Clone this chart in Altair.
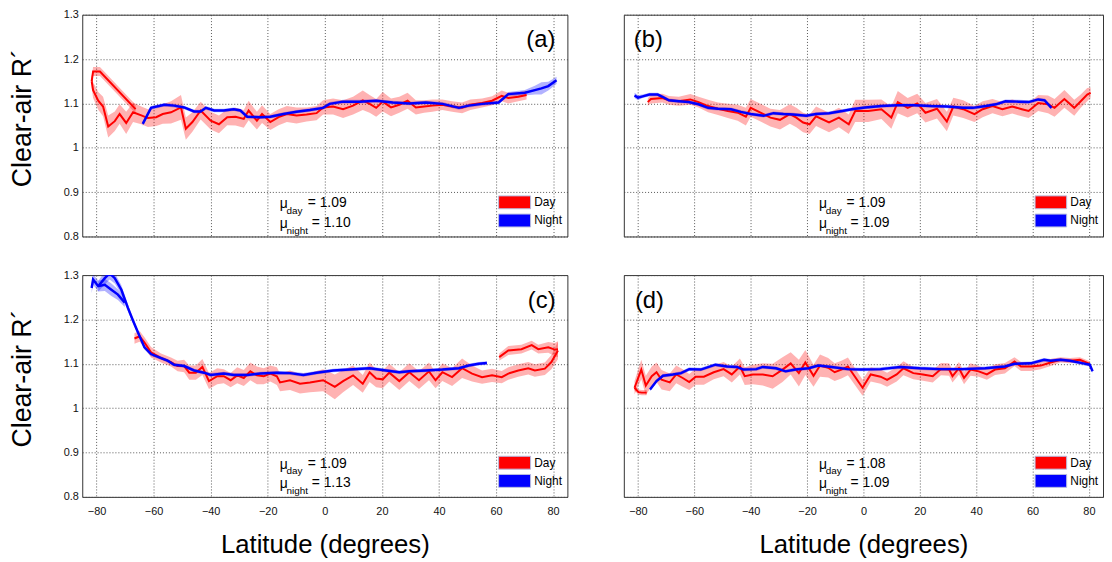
import altair as alt
import pandas as pd

FONT = "Liberation Sans, Arial, Helvetica, sans-serif"
DAY_COLOR = "#ff0000"
NIGHT_COLOR = "#0000ff"

# ---------------- data ----------------
series_names = ["Day", "Night"]
panel_keys = ["a", "b", "c", "d"]
panel_labels = ["(a)", "(b)", "(c)", "(d)"]
mu_day = ["1.09", "1.09", "1.09", "1.08"]
mu_night = ["1.10", "1.09", "1.13", "1.09"]
x_ticks = [-80, -60, -40, -20, 0, 20, 40, 60, 80]
y_ticks = [0.8, 0.9, 1.0, 1.1, 1.2, 1.3]

# panel (a)
a_day1_lat = [-81.7, -81.2, -78.8, -66.3]
a_day1_val = [1.150, 1.172, 1.172, 1.087]
a_day1_err = [0.010, 0.010, 0.010, 0.010]

a_day2_lat = [-81.7, -81.2, -79.4, -77.7, -75.9, -73.6, -71.9, -69.6, -67.2, -64.3,
              -62.0, -59.1, -56.8, -53.9, -50.4, -48.7, -46.4, -43.5, -40.0, -37.1,
              -34.2, -31.3, -28.4, -26.7, -23.8, -22.0, -19.1, -16.2, -13.3, -9.9,
              -6.4, -2.9, -0.6, 2.9, 6.4, 9.9, 13.3, 15.7, 18.0, 20.3,
              23.2, 26.1, 29.0, 31.9, 34.8, 37.7, 41.2, 44.6, 48.1, 51.0,
              55.1, 58.6, 62.0, 64.3, 67.8, 70.7]
a_day2_val = [1.150, 1.130, 1.106, 1.093, 1.048, 1.060, 1.076, 1.056, 1.080, 1.073,
              1.067, 1.069, 1.076, 1.080, 1.091, 1.043, 1.058, 1.084, 1.061, 1.053,
              1.069, 1.070, 1.065, 1.084, 1.061, 1.076, 1.058, 1.069, 1.076, 1.073,
              1.075, 1.078, 1.091, 1.093, 1.087, 1.095, 1.107, 1.099, 1.090, 1.104,
              1.091, 1.097, 1.106, 1.091, 1.093, 1.095, 1.097, 1.093, 1.090, 1.097,
              1.101, 1.106, 1.117, 1.112, 1.115, 1.119]
a_day2_err = [0.015, 0.018, 0.020, 0.022, 0.025, 0.022, 0.022, 0.025, 0.022, 0.020,
              0.020, 0.020, 0.022, 0.025, 0.028, 0.025, 0.022, 0.020, 0.020, 0.020,
              0.018, 0.020, 0.020, 0.022, 0.020, 0.020, 0.018, 0.018, 0.018, 0.018,
              0.016, 0.016, 0.016, 0.018, 0.020, 0.020, 0.022, 0.020, 0.020, 0.022,
              0.020, 0.018, 0.018, 0.016, 0.014, 0.014, 0.012, 0.012, 0.012, 0.012,
              0.010, 0.010, 0.012, 0.012, 0.010, 0.010]

a_night_lat = [-63.8, -60.9, -56.2, -52.8, -49.3, -45.8, -43.5, -41.7, -38.8, -35.4,
               -31.9, -29.6, -27.2, -22.6, -19.1, -14.5, -9.9, -5.2, -0.6, 1.7,
               6.4, 12.2, 18.0, 23.8, 29.6, 35.4, 41.2, 47.0, 50.4, 55.1,
               60.9, 64.3, 70.1, 73.6, 75.9, 78.3, 81.2]
a_night_val = [1.054, 1.090, 1.097, 1.095, 1.091, 1.082, 1.082, 1.090, 1.084, 1.084,
               1.087, 1.084, 1.070, 1.069, 1.070, 1.076, 1.081, 1.085, 1.090, 1.099,
               1.104, 1.104, 1.106, 1.102, 1.100, 1.102, 1.099, 1.090, 1.095, 1.099,
               1.102, 1.121, 1.124, 1.130, 1.134, 1.139, 1.152]
a_night_err = [0.005, 0.004, 0.004, 0.004, 0.004, 0.004, 0.004, 0.004, 0.004, 0.004,
               0.004, 0.004, 0.004, 0.004, 0.004, 0.004, 0.004, 0.004, 0.004, 0.004,
               0.004, 0.004, 0.004, 0.004, 0.004, 0.004, 0.004, 0.004, 0.004, 0.004,
               0.004, 0.005, 0.006, 0.010, 0.014, 0.010, 0.008]

# panel (b)
b_day_lat = [-76.5, -75.4, -71.3, -69.0, -65.5, -61.4, -58.5, -55.1, -51.6, -48.1,
             -44.6, -41.7, -40.0, -36.5, -33.0, -29.6, -26.1, -23.8, -21.4, -19.1,
             -16.8, -12.2, -8.7, -5.2, -2.9, 1.7, 6.4, 9.9, 12.2, 15.7,
             19.1, 22.0, 26.1, 29.6, 31.9, 35.4, 39.4, 42.3, 45.8, 49.3,
             52.8, 56.2, 58.6, 62.0, 65.5, 67.8, 71.3, 74.8, 77.1, 79.4,
             80.6]
b_day_val = [1.103, 1.110, 1.112, 1.107, 1.105, 1.109, 1.103, 1.094, 1.088, 1.083,
             1.079, 1.070, 1.090, 1.079, 1.068, 1.063, 1.076, 1.068, 1.057, 1.053,
             1.071, 1.057, 1.068, 1.053, 1.083, 1.083, 1.087, 1.068, 1.103, 1.090,
             1.100, 1.079, 1.088, 1.059, 1.093, 1.087, 1.076, 1.087, 1.094, 1.087,
             1.093, 1.087, 1.083, 1.101, 1.098, 1.090, 1.110, 1.090, 1.105, 1.120,
             1.124]
b_day_err = [0.008, 0.010, 0.010, 0.010, 0.010, 0.012, 0.012, 0.014, 0.014, 0.016,
             0.018, 0.020, 0.020, 0.020, 0.020, 0.022, 0.022, 0.022, 0.022, 0.022,
             0.022, 0.022, 0.022, 0.022, 0.025, 0.025, 0.022, 0.025, 0.025, 0.022,
             0.022, 0.022, 0.022, 0.022, 0.020, 0.020, 0.018, 0.018, 0.016, 0.016,
             0.016, 0.016, 0.016, 0.018, 0.020, 0.020, 0.020, 0.018, 0.015, 0.015,
             0.012]

b_night_lat = [-81.2, -80.0, -78.3, -75.9, -73.0, -71.3, -69.0, -65.5, -62.0, -58.5,
               -55.1, -51.6, -47.0, -43.5, -40.0, -35.4, -31.9, -28.4, -24.9, -20.3,
               -16.8, -12.2, -7.5, -4.1, 0.6, 6.4, 12.2, 18.0, 23.8, 29.6,
               35.4, 38.8, 43.5, 47.0, 50.4, 55.1, 58.6, 62.0, 64.3, 66.7]
b_night_val = [1.118, 1.113, 1.116, 1.120, 1.120, 1.115, 1.107, 1.105, 1.103, 1.098,
               1.090, 1.088, 1.087, 1.081, 1.076, 1.072, 1.078, 1.076, 1.075, 1.072,
               1.076, 1.078, 1.083, 1.087, 1.091, 1.094, 1.096, 1.096, 1.094, 1.093,
               1.090, 1.090, 1.094, 1.098, 1.105, 1.104, 1.103, 1.109, 1.107, 1.090]
b_night_err = [0.006, 0.006, 0.004, 0.004, 0.004, 0.004, 0.004, 0.004, 0.004, 0.004,
               0.004, 0.004, 0.004, 0.004, 0.004, 0.004, 0.004, 0.004, 0.004, 0.004,
               0.004, 0.004, 0.004, 0.004, 0.004, 0.004, 0.004, 0.004, 0.004, 0.004,
               0.004, 0.004, 0.004, 0.004, 0.004, 0.004, 0.004, 0.004, 0.004, 0.004]

# panel (c)
c_day1_lat = [61.1, 64.3, 68.9, 72.5, 74.8, 78.3, 80.6, 81.7]
c_day1_val = [1.115, 1.130, 1.133, 1.142, 1.133, 1.137, 1.132, 1.133]
c_day1_err = [0.008, 0.010, 0.010, 0.010, 0.010, 0.012, 0.015, 0.018]

c_day2_lat = [-66.7, -64.9, -63.2, -60.9, -57.4, -53.9, -51.6, -49.3, -47.5, -45.2,
              -42.9, -40.6, -37.7, -35.4, -33.0, -30.7, -28.4, -26.1, -23.8, -21.4,
              -19.1, -16.8, -15.7, -12.2, -8.7, -5.2, -0.6, 3.5, 6.4, 9.9,
              13.3, 15.7, 18.0, 20.3, 22.6, 26.1, 29.6, 33.0, 36.5, 38.8,
              41.2, 44.6, 48.1, 51.6, 55.1, 58.6, 62.0, 64.3, 67.8, 71.3,
              73.6, 77.1, 79.4, 81.7]
c_day2_val = [1.157, 1.162, 1.148, 1.126, 1.113, 1.104, 1.095, 1.095, 1.080, 1.080,
              1.093, 1.061, 1.072, 1.072, 1.063, 1.074, 1.068, 1.083, 1.074, 1.072,
              1.078, 1.072, 1.058, 1.063, 1.055, 1.058, 1.063, 1.048, 1.061, 1.074,
              1.055, 1.081, 1.067, 1.065, 1.080, 1.061, 1.081, 1.063, 1.083, 1.063,
              1.081, 1.070, 1.090, 1.078, 1.070, 1.074, 1.070, 1.078, 1.085, 1.090,
              1.085, 1.089, 1.104, 1.130]
c_day2_err = [0.012, 0.012, 0.012, 0.012, 0.010, 0.010, 0.012, 0.014, 0.016, 0.016,
              0.018, 0.018, 0.018, 0.016, 0.016, 0.018, 0.018, 0.020, 0.020, 0.018,
              0.018, 0.020, 0.020, 0.022, 0.022, 0.022, 0.025, 0.028, 0.025, 0.022,
              0.020, 0.022, 0.020, 0.020, 0.020, 0.020, 0.020, 0.020, 0.020, 0.018,
              0.020, 0.020, 0.022, 0.018, 0.015, 0.015, 0.014, 0.014, 0.014, 0.014,
              0.014, 0.014, 0.016, 0.020]

c_night1_lat = [-81.7, -81.2, -79.4, -77.1, -74.8, -72.5, -70.1]
c_night1_val = [1.271, 1.290, 1.275, 1.278, 1.267, 1.256, 1.238]
c_night1_err = [0.012, 0.012, 0.012, 0.014, 0.014, 0.012, 0.010]

c_night2_lat = [-79.4, -77.1, -75.4, -73.6, -71.3, -69.0, -67.2, -65.5, -63.2, -60.9,
                -57.4, -55.1, -52.8, -49.3, -45.8, -42.3, -40.0, -35.4, -31.9, -27.2,
                -22.6, -16.8, -12.2, -7.5, -2.9, 2.9, 8.7, 15.7, 21.4, 26.1,
                29.6, 35.4, 41.2, 47.0, 50.4, 53.9, 56.8]
c_night2_val = [1.275, 1.293, 1.304, 1.293, 1.267, 1.226, 1.197, 1.171, 1.137, 1.122,
                1.113, 1.107, 1.098, 1.095, 1.085, 1.080, 1.075, 1.078, 1.075, 1.075,
                1.078, 1.080, 1.079, 1.075, 1.080, 1.085, 1.087, 1.090, 1.085, 1.081,
                1.083, 1.085, 1.087, 1.090, 1.096, 1.100, 1.102]
c_night2_err = [0.012, 0.014, 0.014, 0.012, 0.010, 0.008, 0.006, 0.005, 0.005, 0.005,
                0.004, 0.004, 0.004, 0.004, 0.004, 0.004, 0.004, 0.004, 0.004, 0.004,
                0.004, 0.004, 0.004, 0.004, 0.004, 0.004, 0.004, 0.004, 0.004, 0.004,
                0.004, 0.004, 0.004, 0.004, 0.004, 0.004, 0.004]

# panel (d)
d_day1_lat = [-81.2, -79.8, -78.6, -76.9]
d_day1_val = [1.046, 1.036, 1.035, 1.035]
d_day1_err = [0.006, 0.006, 0.006, 0.006]

d_day2_lat = [-81.2, -78.8, -77.2, -75.1, -73.4, -71.6, -68.7, -66.4, -64.1, -61.8,
              -59.5, -56.6, -53.1, -49.6, -46.7, -43.8, -42.1, -39.2, -35.7, -32.2,
              -28.7, -25.8, -22.9, -20.6, -17.7, -15.4, -12.5, -10.2, -7.8, -5.5,
              -0.3, 2.6, 6.1, 8.4, 11.8, 14.2, 17.7, 21.1, 24.6, 27.5,
              30.4, 31.6, 33.9, 35.7, 38.0, 40.9, 43.8, 46.7, 50.2, 53.6,
              55.9, 59.4, 62.9, 66.4, 69.9, 73.3, 76.8, 80.3]
d_day2_val = [1.046, 1.087, 1.051, 1.072, 1.081, 1.064, 1.058, 1.076, 1.068, 1.059,
              1.071, 1.071, 1.081, 1.088, 1.076, 1.094, 1.072, 1.076, 1.076, 1.072,
              1.087, 1.101, 1.079, 1.103, 1.073, 1.096, 1.091, 1.081, 1.087, 1.094,
              1.046, 1.076, 1.071, 1.064, 1.076, 1.090, 1.079, 1.076, 1.072, 1.088,
              1.087, 1.072, 1.090, 1.068, 1.087, 1.083, 1.076, 1.087, 1.090, 1.105,
              1.094, 1.094, 1.096, 1.103, 1.109, 1.107, 1.109, 1.100]
d_day2_err = [0.015, 0.022, 0.022, 0.022, 0.022, 0.022, 0.020, 0.020, 0.020, 0.018,
              0.018, 0.018, 0.016, 0.016, 0.018, 0.018, 0.020, 0.022, 0.025, 0.028,
              0.028, 0.025, 0.030, 0.028, 0.025, 0.025, 0.022, 0.020, 0.020, 0.020,
              0.018, 0.016, 0.016, 0.016, 0.016, 0.016, 0.014, 0.014, 0.014, 0.014,
              0.014, 0.014, 0.014, 0.014, 0.014, 0.012, 0.012, 0.012, 0.012, 0.010,
              0.010, 0.010, 0.008, 0.008, 0.006, 0.006, 0.006, 0.006]

d_night_lat = [-75.7, -73.4, -71.1, -67.6, -64.7, -61.8, -57.7, -52.5, -48.4, -44.9,
               -42.6, -38.0, -35.7, -31.0, -27.6, -24.1, -19.4, -16.0, -11.3, -5.5,
               -0.9, 6.1, 13.1, 20.0, 27.0, 35.1, 43.2, 50.2, 53.6, 59.4,
               64.1, 66.4, 69.9, 73.3, 78.0, 80.3, 81.3]
d_night_val = [1.042, 1.061, 1.073, 1.076, 1.079, 1.088, 1.087, 1.098, 1.094, 1.093,
               1.087, 1.088, 1.093, 1.090, 1.083, 1.087, 1.090, 1.096, 1.093, 1.088,
               1.087, 1.088, 1.093, 1.090, 1.088, 1.088, 1.090, 1.094, 1.100, 1.101,
               1.109, 1.107, 1.109, 1.107, 1.101, 1.098, 1.083]
d_night_err = [0.004, 0.004, 0.004, 0.004, 0.004, 0.004, 0.004, 0.004, 0.004, 0.004,
               0.004, 0.004, 0.004, 0.004, 0.004, 0.004, 0.004, 0.004, 0.004, 0.004,
               0.004, 0.004, 0.004, 0.004, 0.004, 0.004, 0.004, 0.004, 0.004, 0.004,
               0.004, 0.004, 0.004, 0.004, 0.004, 0.004, 0.004]

segments = {
    "a": [("Day", "a1", a_day1_lat, a_day1_val, a_day1_err),
          ("Day", "a2", a_day2_lat, a_day2_val, a_day2_err),
          ("Night", "a3", a_night_lat, a_night_val, a_night_err)],
    "b": [("Day", "b1", b_day_lat, b_day_val, b_day_err),
          ("Night", "b2", b_night_lat, b_night_val, b_night_err)],
    "c": [("Day", "c1", c_day1_lat, c_day1_val, c_day1_err),
          ("Day", "c2", c_day2_lat, c_day2_val, c_day2_err),
          ("Night", "c3", c_night1_lat, c_night1_val, c_night1_err),
          ("Night", "c4", c_night2_lat, c_night2_val, c_night2_err)],
    "d": [("Day", "d1", d_day1_lat, d_day1_val, d_day1_err),
          ("Day", "d2", d_day2_lat, d_day2_val, d_day2_err),
          ("Night", "d3", d_night_lat, d_night_val, d_night_err)],
}


def frame(key):
    rows = []
    for series, seg, lat, val, err in segments[key]:
        for la, v, e in zip(lat, val, err):
            rows.append({"series": series, "seg": seg, "lat": la, "val": v,
                         "lo": v - e, "hi": v + e})
    return pd.DataFrame(rows)


XSCALE = alt.Scale(domain=[-85, 85], nice=False, zero=False)
YSCALE = alt.Scale(domain=[0.8, 1.3], nice=False, zero=False)
COLOR = alt.Color("series:N", scale=alt.Scale(domain=series_names, range=[DAY_COLOR, NIGHT_COLOR]),
                  legend=None)
GRID = dict(grid=True, gridColor="#444", gridDash=[1, 2], gridWidth=1, gridOpacity=0.9,
            ticks=False, domain=False)


def make_panel(i, show_y, show_x, width, letter_lat):
    key = panel_keys[i]
    df = frame(key)
    if show_x:
        xaxis = alt.Axis(values=x_ticks, title="Latitude (degrees)", labelFontSize=11,
                         labelPadding=9, titleFontSize=26, titleFontWeight="normal",
                         titlePadding=15, labelColor="#111", **GRID)
    else:
        xaxis = alt.Axis(values=x_ticks, title=None, labels=False, **GRID)
    if show_y:
        yaxis = alt.Axis(values=y_ticks, format="~g", title="Clear-air R\u00b4", labelFontSize=11,
                         labelPadding=4, titleFontSize=27, titleFontWeight="normal",
                         titlePadding=27, titleY=104, labelColor="#111", **GRID)
    else:
        yaxis = alt.Axis(values=y_ticks, title=None, labels=False, **GRID)

    def X(field="lat"):
        return alt.X(f"{field}:Q", scale=XSCALE, axis=xaxis)

    def Y(field="val"):
        return alt.Y(f"{field}:Q", scale=YSCALE, axis=yaxis, stack=None)

    base = alt.Chart(df)
    layers = []
    for s in ["Night", "Day"]:
        layers.append(base.transform_filter(alt.datum.series == s)
                      .mark_area(opacity=0.3, clip=True)
                      .encode(x=X(), y=Y("lo"), y2="hi:Q", color=COLOR, detail="seg:N"))
    for s, w in [("Day", 2.0), ("Night", 2.5)]:
        layers.append(base.transform_filter(alt.datum.series == s)
                      .mark_line(strokeWidth=w, clip=True)
                      .encode(x=X(), y=Y(), color=COLOR, detail="seg:N"))

    # panel letter
    letter_df = pd.DataFrame([{"lat": letter_lat, "val": 1.242, "text": panel_labels[i]}])
    layers.append(alt.Chart(letter_df).mark_text(fontSize=24, align="center", baseline="middle",
                                                 color="#000")
                  .encode(x=X(), y=Y(), text="text:N"))

    # mean annotations
    mu_df = pd.DataFrame([
        {"lat": -15.8, "val": 0.875, "text": "\u03bc"},
        {"lat": -15.8, "val": 0.831, "text": "\u03bc"},
    ])
    sub_df = pd.DataFrame([
        {"lat": -13.4, "val": 0.875, "text": "day"},
        {"lat": -13.4, "val": 0.831, "text": "night"},
    ])
    num_df = pd.DataFrame([
        {"lat": -6.0, "val": 0.875, "text": "= " + mu_day[i]},
        {"lat": -4.6, "val": 0.831, "text": "= " + mu_night[i]},
    ])
    layers.append(alt.Chart(mu_df).mark_text(fontSize=14, align="left", baseline="middle", dy=1,
                                             color="#000")
                  .encode(x=X(), y=Y(), text="text:N"))
    layers.append(alt.Chart(sub_df).mark_text(fontSize=10, align="left", baseline="middle", dy=8,
                                              color="#000")
                  .encode(x=X(), y=Y(), text="text:N"))
    layers.append(alt.Chart(num_df).mark_text(fontSize=14, align="left", baseline="middle",
                                              color="#000")
                  .encode(x=X(), y=Y(), text="text:N"))

    # legend swatches
    sw_df = pd.DataFrame([
        {"series": "Day", "x1": 60.9, "x2": 72.1, "y1": 0.8915, "y2": 0.8625},
        {"series": "Night", "x1": 60.9, "x2": 72.1, "y1": 0.8505, "y2": 0.8215},
    ])
    layers.append(alt.Chart(sw_df).mark_rect(stroke="#b8bce0", strokeWidth=1)
                  .encode(x=alt.X("x1:Q", scale=XSCALE, axis=xaxis), x2="x2:Q",
                          y=alt.Y("y1:Q", scale=YSCALE, axis=yaxis), y2="y2:Q", color=COLOR))
    lg_df = pd.DataFrame([
        {"lat": 73.4, "val": 0.877, "text": "Day"},
        {"lat": 73.4, "val": 0.836, "text": "Night"},
    ])
    layers.append(alt.Chart(lg_df).mark_text(fontSize=12, align="left", baseline="middle",
                                             color="#000")
                  .encode(x=X(), y=Y(), text="text:N"))

    return alt.layer(*layers).properties(width=width, height=224)


pa = make_panel(0, True, False, 490, 75.7)
pb = make_panel(1, False, False, 484, -76.3)
pc = make_panel(2, True, True, 490, 76.0)
pd_ = make_panel(3, False, True, 484, -75.9)

top = alt.hconcat(pa, pb, spacing=55)
bottom = alt.hconcat(pc, pd_, spacing=55)
chart = (alt.vconcat(top, bottom, spacing=26)
         .properties(padding={"left": 0, "top": -3, "right": 0, "bottom": 0})
         .configure(font=FONT)
         .configure_view(stroke="#333", strokeWidth=1)
         .configure_axis(labelFont=FONT, titleFont=FONT, titleColor="#000"))

chart.save("out.html", embed_options={"renderer": "svg", "actions": False})
